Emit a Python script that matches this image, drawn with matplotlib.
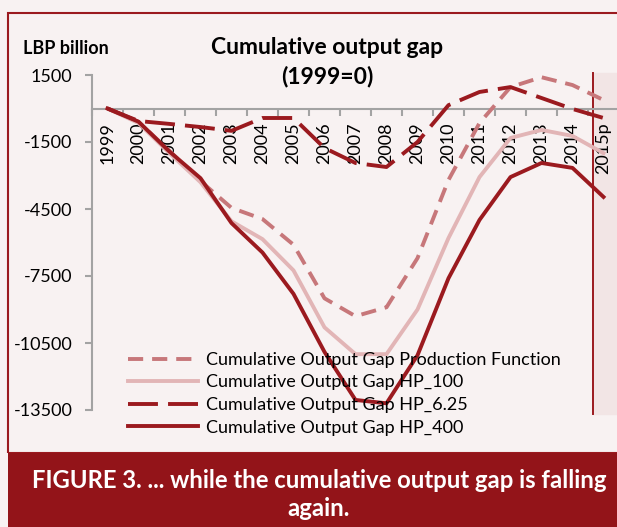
import matplotlib
matplotlib.use('Agg')
import matplotlib.pyplot as plt
from matplotlib.patches import Rectangle

# data (LBP billion, 1999=0)
years = ['1999', '2000', '2001', '2002', '2003', '2004', '2005', '2006', '2007',
         '2008', '2009', '2010', '2011', '2012', '2013', '2014', '2015p']
gap_pf = [0, -600, -1900, -3250, -4450, -4950, -6100, -8500, -9300, -8900,
          -6700, -3200, -650, 960, 1400, 1050, 380]
gap_hp100 = [0, -650, -2000, -3300, -5050, -5850, -7250, -9800, -11000, -11000,
             -9000, -5800, -3070, -1320, -960, -1230, -2000]
gap_hp625 = [0, -560, -690, -830, -1000, -425, -425, -1770, -2440, -2620,
             -1500, 150, 740, 960, 470, -20, -425]
gap_hp400 = [0, -590, -1930, -3120, -5130, -6450, -8300, -10900, -13050, -13200,
             -11050, -7600, -4990, -3070, -2440, -2660, -3960]
yticks = [1500, -1500, -4500, -7500, -10500, -13500]

BG = '#f8f2f2'
DARK = '#9b1a1f'
BANNER = '#931419'
PF_C = '#c7777a'
HP100_C = '#e2b5b6'
GRID = '#a3a3a3'

plt.rcParams['font.family'] = ['Lato', 'DejaVu Sans']
plt.rcParams['axes.unicode_minus'] = False

W, H = 617, 527
fig = plt.figure(figsize=(W / 100, H / 100), dpi=100, facecolor=BG)

def fx(px):
    return px / W

def fy(py):
    return 1 - py / H

# frame and banner
fig.add_artist(Rectangle((fx(8), fy(453)), fx(640) - fx(8), fy(13) - fy(453),
                         transform=fig.transFigure, fill=False, edgecolor=DARK, lw=1.5))
fig.add_artist(Rectangle((fx(8), 0), 1, fy(453), transform=fig.transFigure,
                         facecolor=BANNER, edgecolor='none'))

ax = fig.add_axes([fx(92), fy(410), fx(619) - fx(92), fy(75) - fy(410)])
ax.patch.set_alpha(0)
x = list(range(len(years)))

ax.axvspan(15.66, 17, ymin=-0.012, ymax=1.006, color='#f2e5e5', zorder=0, clip_on=False)
ax.axvline(15.66, ymin=-0.012, ymax=1.006, color=DARK, lw=1.4, zorder=1, clip_on=False)

lw = 2.8
ax.plot(x, gap_pf, color=PF_C, lw=lw, dashes=(3.9, 2.3), label='Cumulative Output Gap Production Function', zorder=3)
ax.plot(x, gap_hp100, color=HP100_C, lw=lw, label='Cumulative Output Gap HP_100', zorder=3)
ax.plot(x, gap_hp625, color=DARK, lw=lw, dashes=(7.7, 2.6), label='Cumulative Output Gap HP_6.25', zorder=3)
ax.plot(x, gap_hp400, color=DARK, lw=lw, label='Cumulative Output Gap HP_400', zorder=3)

ax.set_xlim(-0.5, 16.5)
ax.set_ylim(-13500, 1500)
for s in ['top', 'right']:
    ax.spines[s].set_visible(False)
ax.spines['left'].set_color(GRID)
ax.spines['left'].set_linewidth(1.5)
ax.spines['bottom'].set_position(('data', 0))
ax.spines['bottom'].set_color(GRID)
ax.spines['bottom'].set_linewidth(1.5)
ax.spines['bottom'].set_zorder(2)

ax.set_yticks(yticks)
ax.set_yticklabels([str(v) for v in yticks])
ax.tick_params(axis='y', length=5, width=1.5, color=GRID, pad=9, labelsize=13)

ax.set_xticks(x)
ax.set_xticklabels(years, rotation=90)
ax.set_xticks([i + 0.5 for i in range(-1, len(years))], minor=True)
ax.tick_params(axis='x', which='major', length=0, pad=10, labelsize=13)
ax.tick_params(axis='x', which='minor', length=5, width=1.5, color=GRID)

fig.legend(loc='upper left', bbox_to_anchor=(fx(128), fy(352)), frameon=False,
           fontsize=13, handlelength=3.9, handletextpad=0.4, labelspacing=0.36,
           borderpad=0, borderaxespad=0)

fig.text(fx(23), fy(48), 'LBP billion', fontsize=13, fontweight='bold', ha='left', va='center')
fig.text(fx(327), fy(48), 'Cumulative output gap', fontsize=16.5, fontweight='bold', ha='center', va='center')
fig.text(fx(327), fy(76), '(1999=0)', fontsize=16.5, fontweight='bold', ha='center', va='center')

fig.text(fx(319), fy(481), 'FIGURE 3. ... while the cumulative output gap is falling',
         fontsize=17.2, fontweight='bold', color='white', ha='center', va='center')
fig.text(fx(319), fy(509), 'again.', fontsize=17.2, fontweight='bold', color='white', ha='center', va='center')

fig.savefig('out.png', dpi=100, facecolor=BG)
